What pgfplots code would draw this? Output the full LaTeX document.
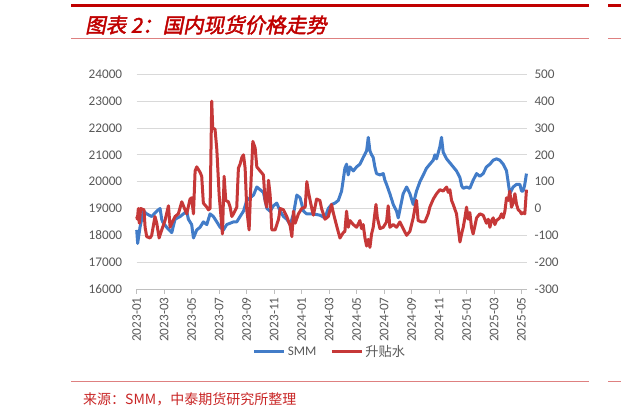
\documentclass[border=0pt]{standalone}
\usepackage{pgfplots}
\pgfplotsset{compat=1.18}
\usepackage{fontspec}
\setmainfont{Carlito}
\newfontfamily\cjk{Noto Sans CJK SC}
\newfontfamily\cjktitle[FakeSlant=0.2,FakeBold=2]{Noto Sans CJK SC}
\definecolor{smmblue}{RGB}{66,124,200}
\definecolor{premred}{RGB}{198,56,56}
\definecolor{titlered}{RGB}{192,0,0}
\definecolor{linered}{RGB}{222,128,128}
\definecolor{gridgray}{RGB}{217,217,217}
\definecolor{axisgray}{RGB}{191,191,191}
\definecolor{labelgray}{RGB}{89,89,89}

\pgfplotstableread{
m v
0.00 18200
0.07 17700
0.24 18300
0.49 18900
0.73 18800
1.09 18700
1.46 18900
1.70 19000
1.82 18600
1.89 18500
2.18 18300
2.55 18100
2.79 18600
3.16 18700
3.64 18900
3.76 18600
4.00 18400
4.13 17900
4.37 18200
4.61 18300
4.85 18500
5.10 18400
5.34 18800
5.58 18700
5.83 18500
6.07 18300
6.31 18200
6.55 18400
7.04 18500
7.28 18500
7.52 18700
7.77 18900
8.01 19300
8.25 19400
8.50 19500
8.74 19800
8.98 19700
9.22 19600
9.47 19000
9.71 18900
9.95 19100
10.19 19200
10.44 18900
10.68 18700
10.92 18600
11.17 18400
11.41 18800
11.65 19500
11.89 19400
12.14 18900
12.36 18800
12.85 18800
13.33 18750
13.70 18650
13.94 19000
14.18 19150
14.42 19200
14.67 19300
14.91 19650
15.15 20500
15.27 20650
15.39 20250
15.52 20550
15.76 20400
16.00 20550
16.24 20650
16.48 20900
16.73 21150
16.85 21650
16.97 21150
17.09 21000
17.21 20900
17.33 20550
17.45 20300
17.70 20250
17.94 20300
18.06 20050
18.18 19900
18.42 19550
18.67 19150
18.91 18900
19.03 18650
19.15 18950
19.39 19550
19.64 19800
19.88 19550
20.12 19150
20.36 19650
20.61 20000
20.85 20250
21.09 20500
21.33 20650
21.58 20800
21.70 21000
21.82 20850
22.06 21300
22.18 21650
22.30 21100
22.55 20850
22.79 20700
23.03 20550
23.27 20400
23.52 20150
23.64 19850
23.76 19750
24.00 19800
24.24 19750
24.48 20050
24.73 20300
24.97 20200
25.21 20300
25.45 20550
25.70 20650
25.94 20800
26.18 20850
26.42 20800
26.67 20650
26.91 20400
27.15 19550
27.39 19800
27.64 19900
27.88 19900
28.00 19650
28.12 19650
28.24 19900
28.36 20300
}\smmdata

\pgfplotstableread{
m p
0.00 -30
0.05 -40
0.12 0
0.19 -55
0.29 0
0.53 -5
0.61 -70
0.73 -105
0.97 -110
1.09 -100
1.33 -30
1.46 -55
1.63 -110
1.82 -80
2.06 -45
2.31 10
2.43 -70
2.55 -55
2.79 -30
3.03 -20
3.28 25
3.52 -5
3.64 -20
3.88 35
4.00 40
4.13 -20
4.25 140
4.37 155
4.61 135
4.73 120
4.85 20
5.10 5
5.22 -5
5.34 0
5.46 400
5.53 300
5.70 295
5.83 220
6.00 50
6.24 -95
6.36 120
6.48 30
6.67 25
6.80 5
6.92 -30
7.04 -20
7.28 5
7.40 150
7.52 165
7.65 190
7.77 200
7.89 150
8.01 -5
8.18 -80
8.30 80
8.45 250
8.62 225
8.74 155
8.98 140
9.22 125
9.34 30
9.47 5
9.59 105
9.71 50
9.83 -80
10.07 -80
10.32 -40
10.44 0
10.68 -5
10.92 -30
11.17 -65
11.29 -105
11.41 -10
11.53 -55
11.77 -20
12.01 0
12.26 5
12.38 100
12.50 60
12.62 30
12.74 0
12.86 -25
13.09 35
13.33 30
13.45 0
13.58 -20
13.70 -40
13.94 -30
14.18 15
14.30 -15
14.55 -65
14.79 -110
15.03 -90
15.15 -85
15.27 -10
15.39 -70
15.52 -45
15.76 -60
16.00 -70
16.24 -45
16.36 -75
16.48 -60
16.61 -110
16.73 -140
16.85 -115
16.97 -145
17.09 -95
17.21 -70
17.41 15
17.51 -35
17.70 -75
17.94 -70
18.18 -50
18.30 10
18.42 -70
18.67 -60
18.91 -70
19.15 -50
19.39 -75
19.64 -100
19.88 -85
20.12 -35
20.24 0
20.36 30
20.48 -45
20.73 -50
20.97 -50
21.21 -20
21.33 5
21.58 35
21.82 55
22.06 70
22.30 65
22.55 80
22.67 60
22.79 70
22.91 30
23.03 15
23.27 -20
23.39 -70
23.52 -125
23.64 -95
23.76 -70
23.88 -35
24.00 5
24.12 -40
24.24 -15
24.36 -70
24.48 -95
24.61 -65
24.73 -35
24.97 -20
25.21 -25
25.45 -55
25.58 -40
25.70 -70
25.82 -45
25.94 -35
26.06 -60
26.18 -45
26.42 -35
26.55 -20
26.67 -35
26.79 -10
26.91 40
27.03 30
27.15 65
27.27 5
27.39 20
27.52 55
27.64 15
27.76 -5
27.88 -10
28.00 -20
28.12 -15
28.24 -20
28.36 70
}\premdata

\begin{document}
\begin{tikzpicture}
\useasboundingbox (0,0) rectangle (621pt,417pt);
\fill[white] (0,0) rectangle (621pt,417pt);
% header / footer rules
\draw[titlered, line width=3pt] (71pt,411pt) -- (589pt,411pt);
\draw[titlered, line width=3pt] (608pt,411pt) -- (621pt,411pt);
\draw[linered, line width=1pt] (71pt,378pt) -- (589pt,378pt);
\draw[linered, line width=1pt] (608pt,378pt) -- (621pt,378pt);
\draw[linered, line width=1pt] (71pt,35pt) -- (589pt,35pt);
\draw[linered, line width=1pt] (608pt,35pt) -- (621pt,35pt);
\node[anchor=west, text=titlered, font=\cjktitle\fontsize{20.5}{24}\selectfont, inner sep=0pt] at (85pt,392pt) {图表 2：国内现货价格走势};
\node[anchor=west, text=titlered!85, font=\cjk\fontsize{14}{16}\selectfont, inner sep=0pt] at (83pt,18pt) {来源：SMM，中泰期货研究所整理};

\begin{axis}[
  at={(136.7pt,128pt)}, anchor=south west,
  scale only axis, width=390.3pt, height=214.7pt,
  xmin=0, xmax=28.4, ymin=16000, ymax=24000,
  axis x line*=bottom, axis y line*=left,
  x axis line style={axisgray, line width=0.8pt, -},
  y axis line style={draw=none},
  xtick={0,2,...,28},
  xticklabels={2023-01,2023-03,2023-05,2023-07,2023-09,2023-11,2024-01,2024-03,2024-05,2024-07,2024-09,2024-11,2025-01,2025-03,2025-05},
  xtick style={axisgray, line width=0.8pt},
  tick align=outside, major tick length=5pt,
  ytick={16000,17000,...,24000},
  yticklabels={16000,17000,18000,19000,20000,21000,22000,23000,24000},
  scaled y ticks=false, scaled x ticks=false,
  ytick style={draw=none},
  ymajorgrids, grid style={gridgray, line width=0.8pt},
  /pgf/number format/assume math mode=true,
  ticklabel style={font=\fontsize{13.2}{15}\selectfont, text=labelgray},
  xticklabel style={rotate=90, anchor=east},
  yticklabel style={xshift=-6pt},
  clip=false,
]
\addplot[smmblue, line width=3pt, line join=round, mark=none] table[x=m, y=v] {\smmdata};
\end{axis}

\begin{axis}[
  at={(136.7pt,128pt)}, anchor=south west,
  scale only axis, width=390.3pt, height=214.7pt,
  xmin=0, xmax=28.4, ymin=-300, ymax=500,
  axis x line=none, axis y line*=right,
  y axis line style={draw=none},
  ytick={-300,-200,...,500},
  yticklabels={-300,-200,-100,0,100,200,300,400,500},
  scaled y ticks=false,
  ytick style={draw=none},
  /pgf/number format/assume math mode=true,
  ticklabel style={font=\fontsize{13.2}{15}\selectfont, text=labelgray},
  yticklabel style={anchor=west, xshift=4pt},
  clip=false,
  legend columns=2,
  legend style={at={(axis description cs:0.495,-0.293)}, anchor=center, draw=none, fill=none,
    font=\fontsize{13.2}{15}\selectfont, text=labelgray,
    /tikz/every even column/.append style={column sep=12pt}},
  legend image code/.code={\draw[#1, line width=3pt] (0pt,0pt) -- (30pt,0pt);},
]
\addlegendimage{smmblue}
\addlegendentry{SMM}
\addplot[premred, line width=3pt, line join=round, mark=none] table[x=m, y=p] {\premdata};
\addlegendentry{\cjk 升贴水}
\end{axis}
\end{tikzpicture}
\end{document}
